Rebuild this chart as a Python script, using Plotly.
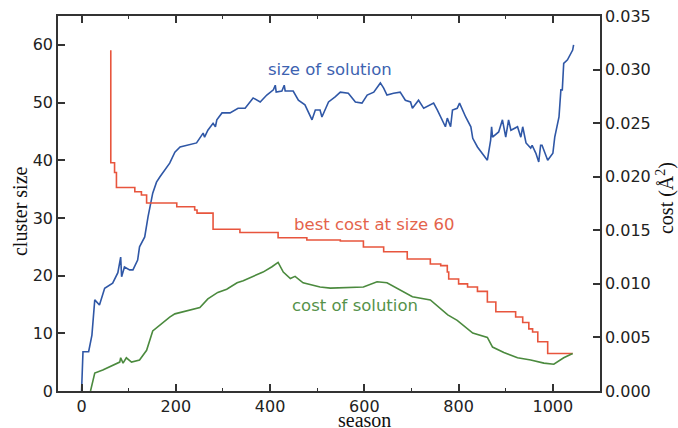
import plotly.graph_objects as go

# size of the current solution (left axis)
size_season = [0, 1.5, 3, 15, 22, 28, 38, 49, 66, 77, 83, 85, 91, 102, 109, 119, 123, 134, 141, 151,
               159, 166, 177, 187, 198, 209, 244, 258, 261, 268, 279, 284, 287, 298, 315, 332, 347,
               364, 379, 393, 407, 411, 413, 425, 430, 432, 449, 460, 474, 489, 496, 506, 510, 524,
               538, 549, 566, 581, 595, 606, 620, 634, 641, 648, 662, 676, 687, 698, 702, 715, 726,
               747, 755, 769, 772, 776, 783, 787, 797, 802, 815, 826, 830, 840, 861, 868, 870, 872,
               885, 893, 900, 906, 911, 925, 932, 936, 943, 953, 956, 964, 970, 974, 977, 989, 1000,
               1004, 1011, 1013, 1017, 1020, 1023, 1031, 1042, 1044]
size_value = [0, 6.2, 6.8, 6.8, 9.7, 15.8, 14.9, 17.8, 18.7, 20.5, 23.2, 19.8, 21.5, 21, 21, 22.7, 25,
              26.7, 30.2, 34.3, 36.2, 37.1, 38.3, 39.5, 41.4, 42.3, 43, 44.7, 44, 45.2, 46.4, 45.8,
              47, 48.2, 48.2, 49, 49, 50.8, 50.1, 51.3, 52.2, 53, 51.8, 52, 53, 52, 52, 50.4, 49.6,
              47, 48.7, 48.7, 47.5, 50.1, 51, 51.8, 51.6, 50.1, 49.9, 51.3, 51.8, 53.4, 52.5, 51.3,
              51.6, 51.8, 50.4, 50.1, 49, 50.4, 49, 49.9, 48.7, 46.4, 45.8, 47.3, 45.8, 48.7, 49,
              49.9, 47.5, 45.8, 43.8, 42.3, 40, 43.5, 45.8, 44, 44.9, 47, 44, 47, 45.2, 45.8, 44,
              45.8, 43, 42.1, 42.6, 41.2, 39.7, 42.6, 42.6, 40, 41.2, 44, 47, 47.5, 52.2, 52.2, 56.8,
              57.4, 59.1, 60]

# best cost found so far at size 60 (right axis, stepwise)
best_season = [62, 62, 70, 74, 113, 127, 138, 202, 240, 245, 279, 336, 417, 478, 549, 598, 641, 691,
               740, 762, 776, 779, 800, 819, 840, 861, 879, 921, 936, 949, 957, 968, 989, 1042]
best_cost = [0.0318, 0.0213, 0.0204, 0.0190, 0.0186, 0.0183, 0.01755, 0.0172, 0.0169, 0.0166,
             0.0151, 0.0148, 0.0143, 0.0141, 0.0140, 0.01344, 0.0130, 0.01232, 0.01185, 0.0117,
             0.0111, 0.01045, 0.0100, 0.0097, 0.0093, 0.0083, 0.0074, 0.0069, 0.0064, 0.0058,
             0.0055, 0.0046, 0.0035, 0.0035]

# cost of the current solution (right axis)
sol_season = [19, 28, 45, 66, 81, 83, 88, 95, 106, 123, 138, 151, 162, 177, 187, 198, 236, 251, 268,
              289, 308, 330, 343, 364, 385, 404, 410, 417, 428, 443, 453, 470, 506, 528, 598, 627,
              648, 676, 702, 740, 769, 777, 797, 830, 861, 872, 896, 925, 953, 981, 1002, 1023, 1042]
sol_cost = [0, 0.00168, 0.00196, 0.00243, 0.0027, 0.0031, 0.0026, 0.0031, 0.0027, 0.0029, 0.0038,
            0.0056, 0.0060, 0.0065, 0.0069, 0.0072, 0.0076, 0.0078, 0.0086, 0.0092, 0.0095, 0.0101,
            0.0103, 0.0107, 0.0111, 0.0116, 0.0118, 0.0120, 0.0111, 0.0105, 0.0107, 0.0101, 0.0097,
            0.0096, 0.0097, 0.0102, 0.0101, 0.0094, 0.0088, 0.0085, 0.0074, 0.0071, 0.0066, 0.0054,
            0.0050, 0.0041, 0.0036, 0.0031, 0.0029, 0.0026, 0.0025, 0.0031, 0.0035]

BLUE = "#2f57a6"
RED = "#e8553d"
GREEN = "#4b8a3e"
AXIS = "#333333"
SANS = "DejaVu Sans"
SERIF = "Liberation Serif"

fig = go.Figure()
fig.add_trace(go.Scatter(x=best_season, y=best_cost, mode="lines", line=dict(color=RED, width=1.6, shape="hv"),
                         yaxis="y2", showlegend=False))
fig.add_trace(go.Scatter(x=sol_season, y=sol_cost, mode="lines", line=dict(color=GREEN, width=1.6),
                         yaxis="y2", showlegend=False))
fig.add_trace(go.Scatter(x=size_season, y=size_value, mode="lines", line=dict(color=BLUE, width=1.6),
                         showlegend=False))

tickfont = dict(family=SANS, size=16, color="#222222")
titlefont = dict(family=SERIF, size=20, color="#111111")

fig.update_layout(
    width=678, height=428,
    margin=dict(l=58, r=78, t=16, b=37),
    plot_bgcolor="white", paper_bgcolor="white",
    xaxis=dict(range=[-50, 1100], tickvals=[0, 200, 400, 600, 800, 1000], ticks="inside", ticklen=7,
               tickwidth=1.5, tickcolor=AXIS, showline=True, linecolor=AXIS, linewidth=1.5,
               mirror="ticks", showgrid=False, zeroline=False, tickfont=tickfont, automargin=False,
               minor=dict(dtick=100, tick0=0, ticks="inside", ticklen=3.5, tickcolor=AXIS, tickwidth=1.2)),
    yaxis=dict(range=[0, 65], tickvals=[0, 10, 20, 30, 40, 50, 60], ticks="inside", ticklen=7,
               tickwidth=1.5, tickcolor=AXIS, showline=True, linecolor=AXIS, linewidth=1.5,
               showgrid=False, zeroline=False, tickfont=tickfont, automargin=False),
    yaxis2=dict(range=[0, 0.035], overlaying="y", side="right",
                tickvals=[0, 0.005, 0.01, 0.015, 0.02, 0.025, 0.03, 0.035], tickformat=".3f",
                ticks="inside", ticklen=7, tickwidth=1.5, tickcolor=AXIS, showline=True, linecolor=AXIS,
                linewidth=1.5, showgrid=False, zeroline=False, tickfont=tickfont, automargin=False),
    annotations=[
        # axis titles
        dict(x=-0.0701, y=0.48, xref="paper", yref="paper", text="cluster size", textangle=-90,
             showarrow=False, xanchor="center", yanchor="middle", font=titlefont),
        dict(x=0.5646, y=-0.077, xref="paper", yref="paper", text="season",
             showarrow=False, xanchor="center", yanchor="middle", font=titlefont),
        dict(x=1.1218, y=0.5147, xref="paper", yref="paper", text="cost (Å<sup>2</sup>)", textangle=-90,
             showarrow=False, xanchor="center", yanchor="middle", font=titlefont),
        # series labels
        dict(x=528, y=55.8, xref="x", yref="y", text="size of solution", showarrow=False,
             font=dict(family=SANS, size=16.5, color="#3d62b0")),
        dict(x=621, y=28.8, xref="x", yref="y", text="best cost at size 60", showarrow=False,
             font=dict(family=SANS, size=16.5, color="#e4634b")),
        dict(x=581, y=14.9, xref="x", yref="y", text="cost of solution", showarrow=False,
             font=dict(family=SANS, size=16.5, color="#55924a")),
    ],
)

fig.write_html("out.html")
